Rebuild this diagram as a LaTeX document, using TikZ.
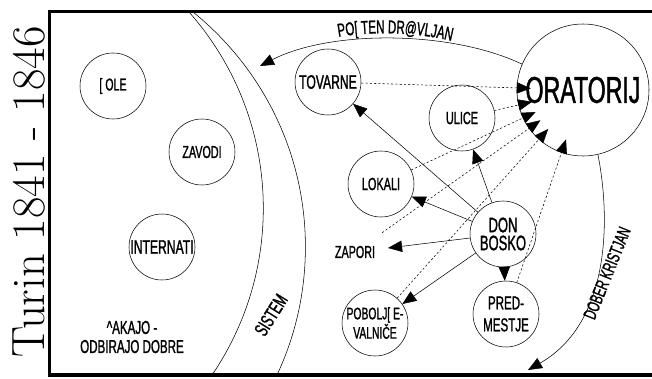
\documentclass[tikz,border=0pt]{standalone}
\usepackage{fontspec}
\usepackage{tikz}
\usetikzlibrary{arrows.meta,decorations.text}
\newfontfamily\narrow{Liberation Sans}[FakeStretch=0.62,FakeBold=1.2]

\begin{document}
\begin{tikzpicture}[x=0.75pt,y=0.75pt,yscale=-1,xscale=1,
  spot/.style={circle,draw,minimum size=49.5pt,inner sep=0pt,align=center},
  word/.style 2 args={font=\narrow\fontsize{#1}{#2}\selectfont},
  push/.style={-{Triangle[length=10.5pt,width=8.5pt]}},
  pull/.style={-{Triangle[length=10.5pt,width=8.5pt]},dash pattern=on 1.6pt off 1.6pt,shorten >=-10.5pt}]
\useasboundingbox (0,0) rectangle (652,378);

%Shape: Arcs of the system band
\begin{scope}
\clip (49.5,11.5) rectangle (652,375);
\draw (-33.2,208.3) circle [radius=296.5];
\draw (3.6,247) circle [radius=301.8];
\end{scope}
%Shape: Frame
\draw [line width=2.5pt] (652,11.5) -- (49.5,11.5) -- (49.5,375) -- (652,375);

% Text Node
\node [rotate=90,anchor=base,font=\fontsize{35}{35}\selectfont] (turin) at (44,192) {Turin 1841 - 1846};

%Shape: Circles
\node [spot,word={12.8}{13}] (sole) at (113,86) {[ OLE};
\node [spot,word={13}{13}] (zavodi) at (202,152) {ZAVODI};
\node [spot,word={14.7}{15}] (intern) at (162,247) {INTERNATI};
\node [spot,word={14.7}{15}] (tov) at (328,82) {TOVARNE};
\node [spot,word={13.2}{13}] (ulice) at (462,118) {ULICE};
\node [spot,word={13.2}{13}] (lokali) at (381,184) {LOKALI};
\node [spot,draw=none,word={13}{13}] (zapori) at (355,252) {ZAPORI};
\node [spot,word={15.7}{13.5}] (db) at (503,234) {DON\\BOSKO};
\node [spot,word={14}{16.5}] (pred) at (506,314) {PRED-\\MESTJE};
\node [spot,word={12.5}{12}] (pobolj) at (375,323) {POBOLJ[ E-\\VALNIČE};
\node [spot,minimum size=99pt,word={28}{28}] (orat) at (583,90) {ORATORIJ};

% Text Node
\node [align=center,word={14}{14.3}] (cakajo) at (132,337) {\^{}AKAJO -\\ODBIRAJO DOBRE};
% Text Node
\node [rotate=58,word={14.5}{12}] (sistem) at (271,315) {SISTEM};
% Text Node
\node [rotate=68,word={13.6}{13}] (kristjan) at (607,273) {DOBER KRISTJAN};
% Text Node
\path [decorate,decoration={text along path,text align=center,
  text={|\narrow\fontsize{14}{14}\selectfont|PO[ TEN DR@VLJAN}}]
  (320,41) .. controls (360,30) and (420,30) .. (470,46);

%Straight Lines
\draw [push] (db) -- (tov);
\draw [push] (db) -- (ulice);
\draw [push] (db) -- (lokali);
\draw [push] (db) -- (zapori);
\draw [push] (db) -- (pobolj);
\draw [push] (db) -- (pred);
\draw [pull] (tov) -- (orat);
\draw [pull] (ulice) -- (orat);
\draw [pull] (lokali) -- (orat);
\draw [pull] (zapori) -- (orat);
\draw [pull] (pobolj) -- (orat);
\draw [pull] (pred) -- (orat);

%Curve Lines
\coordinate (citizen) at (260,66);
\draw [push] (orat.157) .. controls (450,30) and (330,30) .. (citizen);
%Curve Lines
\coordinate (christian) at (528,370);
\draw [push] (orat.-77) .. controls (610,215) and (612,322) .. (christian);

\end{tikzpicture}
\end{document}
